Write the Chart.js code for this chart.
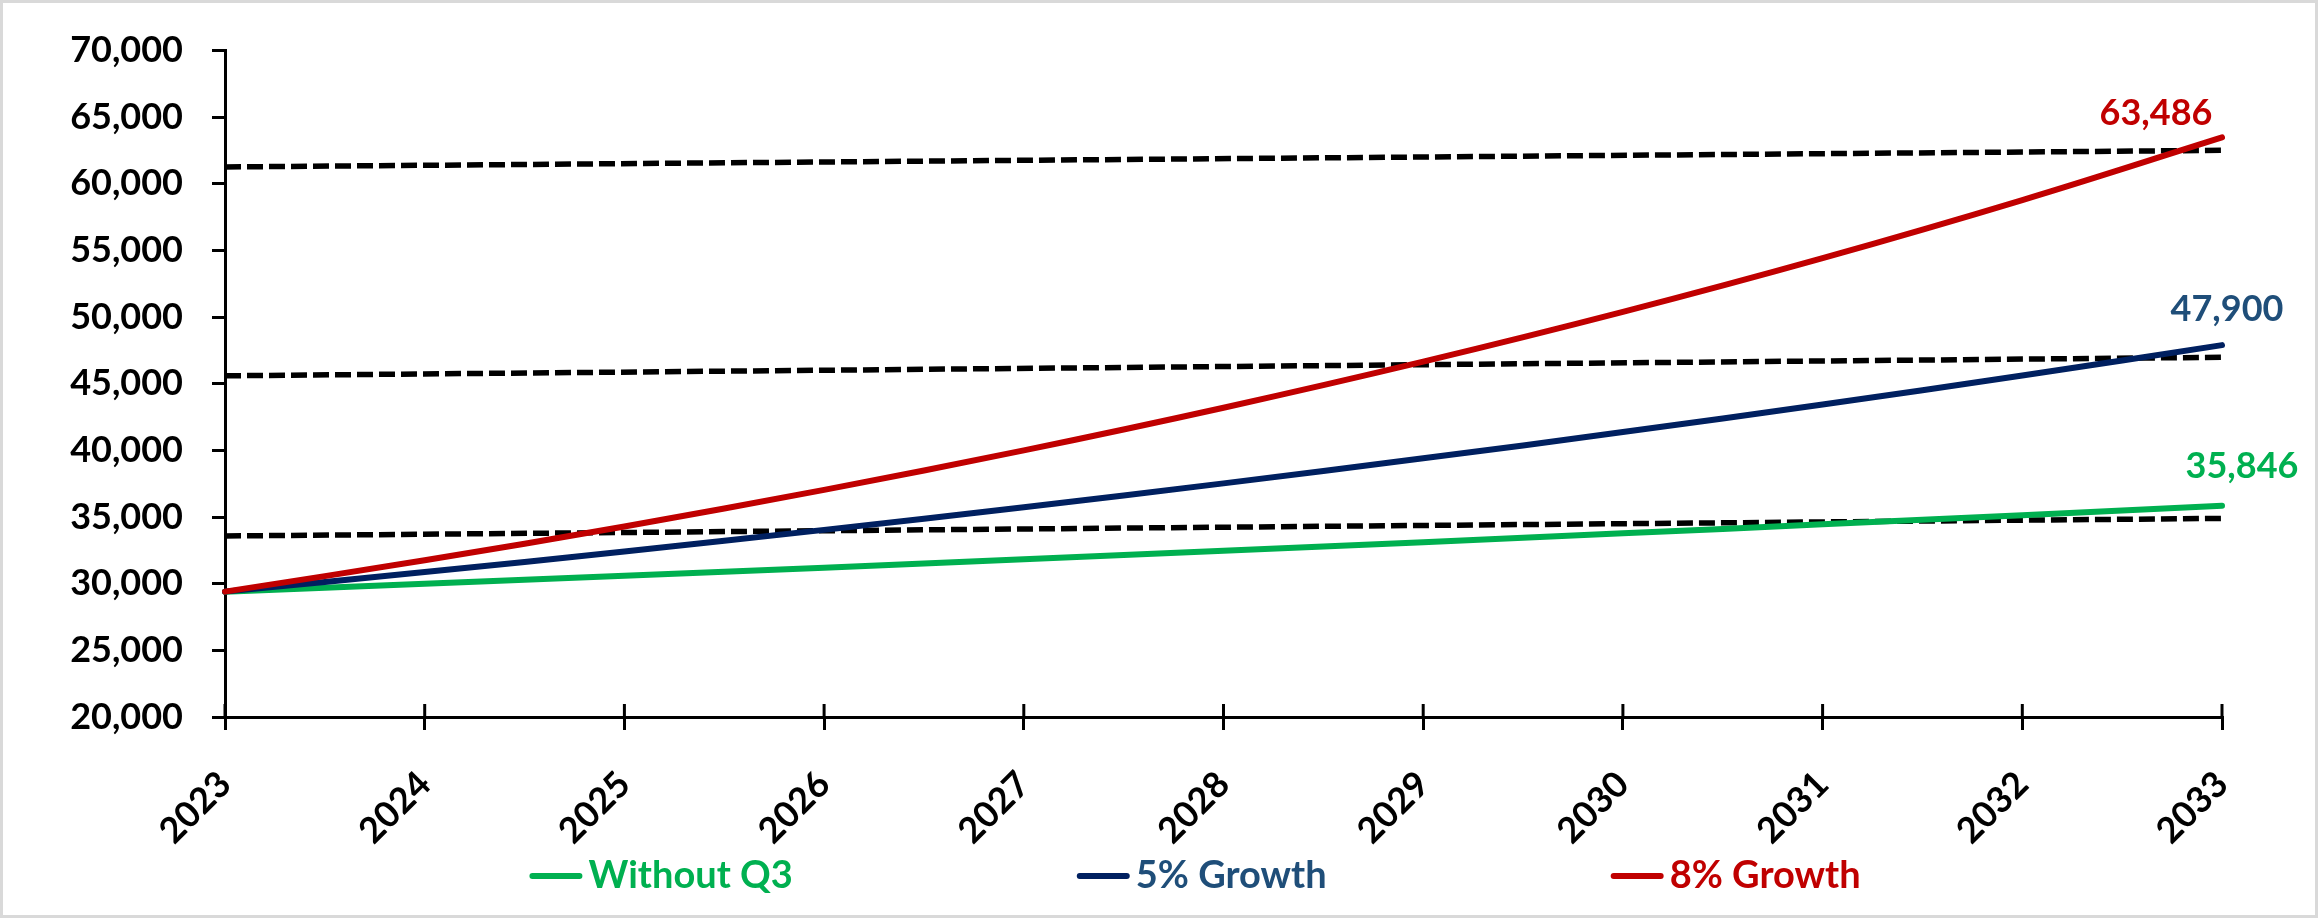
<!DOCTYPE html>
<html>
<head>
<meta charset="utf-8">
<script src="https://cdn.jsdelivr.net/npm/chart.js@4.4.1/dist/chart.umd.min.js"></script>
<style>
html,body{margin:0;padding:0;background:#fff;}
canvas{display:block;}
</style>
</head>
<body>
<canvas id="c" width="2318" height="918"></canvas>
<script>
// ---- data ----
const years = ['2023','2024','2025','2026','2027','2028','2029','2030','2031','2032','2033'];
const withoutQ3 = [29406, 29994, 30594, 31206, 31830, 32467, 33116, 33778, 34454, 35143, 35846];
const growth5   = [29406, 30876, 32420, 34041, 35743, 37530, 39407, 41377, 43446, 45618, 47900];
const growth8   = [29406, 31758, 34299, 37043, 40006, 43207, 46664, 50397, 54429, 58783, 63486];
const refHigh = [61270, null, null, null, null, null, null, null, null, null, 62515];
const refMid  = [45600, null, null, null, null, null, null, null, null, null, 46990];
const refLow  = [33580, null, null, null, null, null, null, null, null, null, 34900];
const seriesNames = ['Without Q3', '5% Growth', '8% Growth'];
const yMin = 20000, yMax = 70000, yStep = 5000;

// ---- styles ----
const FONT = 'Lato';
const lineColors  = ['#00B050', '#002060', '#C00000'];
const labelColors = ['#00B050', '#1F4E79', '#C00000'];
const endLabelOffsets = [[20, -39], [5, -36], [-66, -24]];

const fmt = v => Math.round(v).toLocaleString('en-US');

const framePlugin = {
  id: 'frame',
  beforeDraw(chart) {
    const ctx = chart.ctx;
    ctx.save();
    ctx.fillStyle = '#fff';
    ctx.fillRect(0, 0, chart.width, chart.height);
    ctx.strokeStyle = '#D9D9D9';
    ctx.lineWidth = 3;
    ctx.strokeRect(1.5, 1.5, chart.width - 3, chart.height - 3);
    ctx.restore();
  }
};

const innerTicksPlugin = {
  id: 'innerTicks',
  beforeDatasetsDraw(chart) {
    const ctx = chart.ctx, xs = chart.scales.x, area = chart.chartArea;
    ctx.save();
    ctx.strokeStyle = '#000';
    ctx.lineWidth = 3;
    xs.ticks.forEach((t, i) => {
      const px = xs.getPixelForTick(i);
      ctx.beginPath();
      ctx.moveTo(px, area.bottom);
      ctx.lineTo(px, area.bottom - 13);
      ctx.stroke();
    });
    ctx.restore();
  }
};

const endLabelsPlugin = {
  id: 'endLabels',
  afterDatasetsDraw(chart) {
    const ctx = chart.ctx;
    ctx.save();
    ctx.font = 'bold 36px ' + FONT;
    ctx.textAlign = 'center';
    ctx.textBaseline = 'middle';
    [0, 1, 2].forEach(i => {
      const meta = chart.getDatasetMeta(i);
      const data = chart.data.datasets[i].data;
      const last = data.length - 1;
      const pt = meta.data[last];
      ctx.fillStyle = labelColors[i];
      ctx.fillText(fmt(data[last]), pt.x + endLabelOffsets[i][0], pt.y + endLabelOffsets[i][1]);
    });
    ctx.restore();
  }
};

const legendPlugin = {
  id: 'customLegend',
  afterDraw(chart) {
    const ctx = chart.ctx;
    ctx.save();
    ctx.font = 'bold 38px ' + FONT;
    const lineW = 53, gapText = 6, gapItem = 284, y = 876;
    const widths = seriesNames.map(n => lineW + gapText + ctx.measureText(n).width);
    const total = widths.reduce((a, b) => a + b, 0) + gapItem * (seriesNames.length - 1);
    let x = 1195 - total / 2;
    seriesNames.forEach((n, i) => {
      ctx.strokeStyle = lineColors[i];
      ctx.lineWidth = 6;
      ctx.lineCap = 'round';
      ctx.beginPath();
      ctx.moveTo(x + 3, y);
      ctx.lineTo(x + lineW - 3, y);
      ctx.stroke();
      ctx.fillStyle = labelColors[i];
      ctx.textAlign = 'left';
      ctx.textBaseline = 'middle';
      ctx.fillText(n, x + lineW + gapText, y);
      x += widths[i] + gapItem;
    });
    ctx.restore();
  }
};

function seriesDs(label, data, i) {
  return {
    label, data,
    borderColor: lineColors[i],
    backgroundColor: lineColors[i],
    borderWidth: 6,
    pointRadius: 0,
    tension: 0.4,
    fill: false,
    borderCapStyle: 'round',
    order: 3 - i
  };
}
function refDs(data) {
  return {
    label: '', data,
    borderColor: '#000',
    borderWidth: 5.5,
    borderDash: [16, 6],
    pointRadius: 0,
    tension: 0,
    spanGaps: true,
    fill: false,
    order: 10
  };
}

function build() {
  const tickFont = { family: FONT, weight: 'bold', size: 36 };
  new Chart(document.getElementById('c'), {
    type: 'line',
    data: {
      labels: years,
      datasets: [
        seriesDs(seriesNames[0], withoutQ3, 0),
        seriesDs(seriesNames[1], growth5, 1),
        seriesDs(seriesNames[2], growth8, 2),
        refDs(refHigh),
        refDs(refMid),
        refDs(refLow)
      ]
    },
    options: {
      responsive: false,
      animation: false,
      devicePixelRatio: 1,
      layout: { padding: { top: 47, right: 96, left: 0, bottom: 0 } },
      plugins: { legend: { display: false }, tooltip: { enabled: false } },
      scales: {
        x: {
          offset: false,
          grid: { display: true, drawOnChartArea: false, drawTicks: true, tickLength: 13, color: '#000', lineWidth: 3 },
          border: { display: true, color: '#000', width: 3 },
          ticks: { autoSkip: false, maxRotation: 45, minRotation: 45, padding: 33, color: '#000', font: tickFont },
          afterFit(s) { s.height = 201; }
        },
        y: {
          min: yMin, max: yMax,
          grid: { display: true, drawOnChartArea: false, drawTicks: true, tickLength: 13, color: '#000', lineWidth: 3 },
          border: { display: true, color: '#000', width: 3 },
          ticks: { stepSize: yStep, padding: 29, color: '#000', font: tickFont, callback: v => fmt(v) },
          afterFit(s) { s.width = 225; }
        }
      }
    },
    plugins: [framePlugin, innerTicksPlugin, endLabelsPlugin, legendPlugin]
  });
}

if (document.fonts && document.fonts.load) {
  document.fonts.load('bold 36px ' + FONT).then(build, build);
} else {
  build();
}
</script>
</body>
</html>
